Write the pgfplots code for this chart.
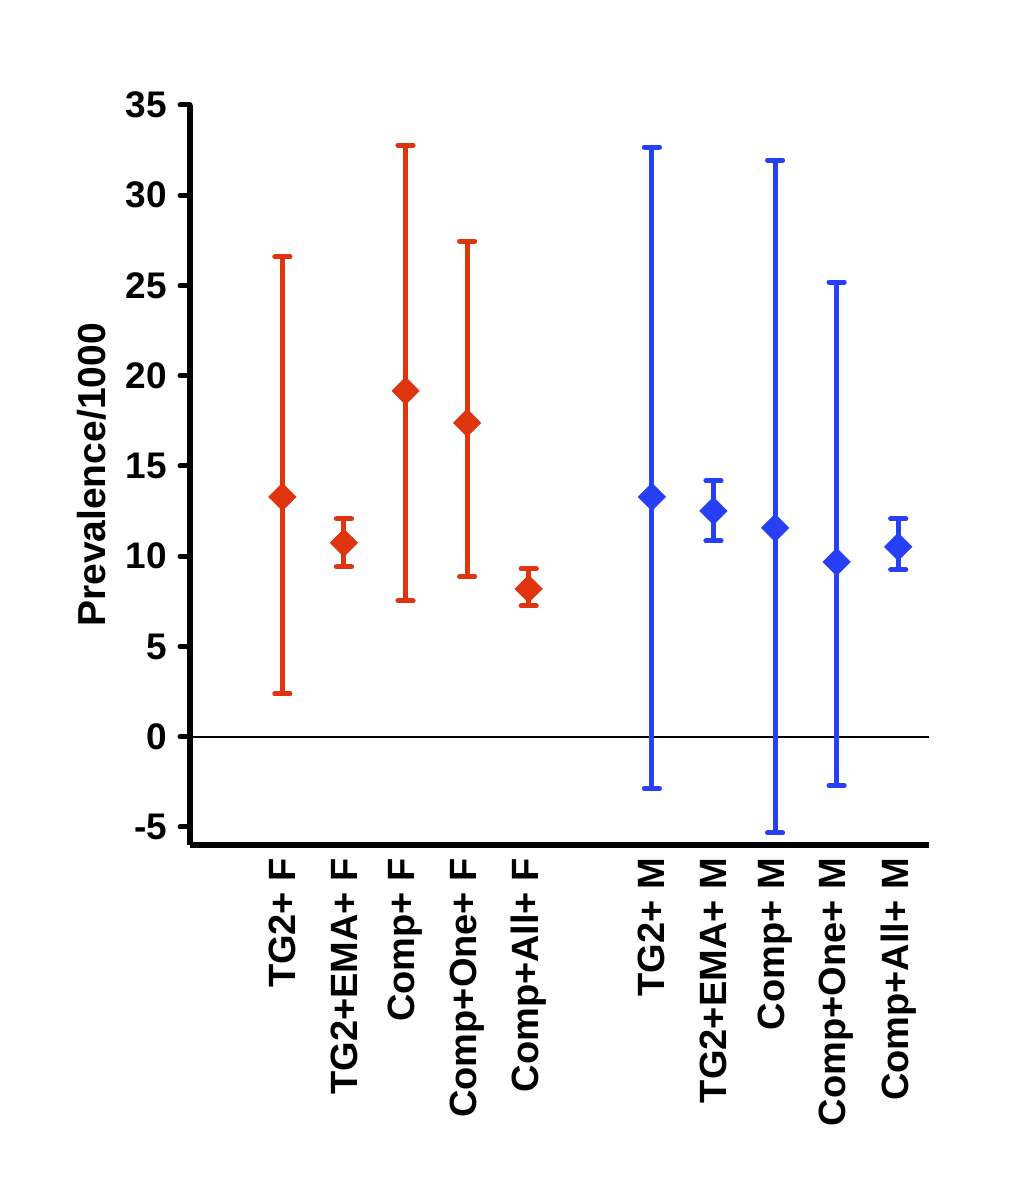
\documentclass[border=0pt]{standalone}
\usepackage{pgfplots}
\pgfplotsset{compat=1.18}
\usepackage{fontspec}
\setmainfont{Liberation Sans}
\definecolor{cred}{RGB}{222,52,16}
\definecolor{cblue}{RGB}{40,64,245}
\begin{document}
\begin{tikzpicture}
\path[use as bounding box] (-95pt,-171pt) rectangle (410pt,422.5pt);
\begin{axis}[
  scale only axis,
  width=369.5pt, height=370pt,
  xmin=-0.5, xmax=11.5, ymin=-6, ymax=35,
  axis x line*=bottom, axis y line*=left,
  axis line style={-, line width=2.8pt, black},
  ytick={-5,0,5,10,15,20,25,30,35},
  xtick={1,2,3,4,5,7,8,9,10,11},
  xticklabels={TG2+ F,TG2+EMA+ F,Comp+ F,Comp+One+ F,Comp+All+ F,TG2+ M,TG2+EMA+ M,Comp+ M,Comp+One+ M,Comp+All+ M},
  xtick style={draw=none},
  ytick style={line width=2.5pt, black, line cap=round},
  tick align=outside, major tick length=5pt,
  /pgf/number format/assume math mode=true,
  yticklabel style={font=\fontsize{18.5}{18.5}\selectfont\bfseries, xshift=-3pt},
  xticklabel style={font=\fontsize{19}{19}\selectfont\bfseries, yshift=2pt, rotate=90, anchor=east},
  ylabel={Prevalence/1000},
  ylabel style={font=\fontsize{19.5}{19.5}\selectfont\bfseries, at={(axis description cs:-0.1326,0.5)}, anchor=center},
  clip=false,
]
\addplot[black, line width=1pt, forget plot] coordinates {(-0.5,0) (11.5,0)};
\addplot[cred, only marks, mark=square*, mark size=4.8pt, mark options={rotate=45, fill=cred, draw=cred},
  error bars/.cd, y dir=both, y explicit,
  error bar style={line width=2.5pt, cred},
  error mark options={rotate=90, mark size=3.8pt, line width=2.5pt, line cap=round, cred}]
 table[x=x, y=y, y error plus=ep, y error minus=em] {
x y ep em
1 13.29 13.29 10.91
2 10.74 1.33 1.33
3 19.16 13.62 11.63
4 17.39 10.07 8.53
5 8.19 1.11 0.94
};
\addplot[cblue, only marks, mark=square*, mark size=4.8pt, mark options={rotate=45, fill=cblue, draw=cblue},
  error bars/.cd, y dir=both, y explicit,
  error bar style={line width=2.5pt, cblue},
  error mark options={rotate=90, mark size=3.8pt, line width=2.5pt, line cap=round, cblue}]
 table[x=x, y=y, y error plus=ep, y error minus=em] {
x y ep em
7 13.29 19.38 16.17
8 12.51 1.66 1.66
9 11.57 20.38 16.89
10 9.69 15.50 12.40
11 10.52 1.55 1.27
};
\end{axis}
\end{tikzpicture}
\end{document}
